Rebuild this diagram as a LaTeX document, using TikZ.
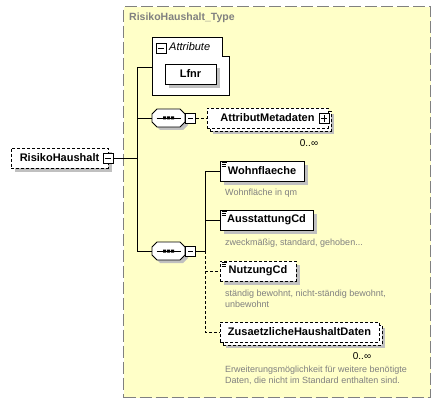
\documentclass[tikz,border=0pt]{standalone}
\usepackage{fontspec}
\setmainfont{Liberation Sans}
\usetikzlibrary{shadows}
\definecolor{bgyel}{RGB}{255,255,200}
\definecolor{shgray}{RGB}{192,192,192}
\definecolor{txgray}{RGB}{128,128,128}
\definecolor{bdgray}{RGB}{128,128,128}
\newcommand\docicon[1]{\draw[line width=0.7pt] ([shift={(2,1.5)}]#1.north west) -- ++(5,0) ([shift={(2,3.5)}]#1.north west) -- ++(4,0) ([shift={(2,5.5)}]#1.north west) -- ++(4,0);}
\newcommand\minussign[1]{\draw[line width=0.8pt] ([xshift=2.2pt]#1.west) -- ([xshift=-2.2pt]#1.east);}
\newcommand\plussign[1]{\draw[line width=0.8pt] ([xshift=2.2pt]#1.west) -- ([xshift=-2.2pt]#1.east) ([yshift=-2.2pt]#1.north) -- ([yshift=2.2pt]#1.south);}
\tikzset{
  elbox/.style={draw, fill=white, line width=0.9pt, minimum height=20pt, inner sep=0pt,
    font=\bfseries\fontsize{11}{13}\selectfont,
    general shadow={fill=shgray, shadow xshift=4pt, shadow yshift=-4pt}},
  optbox/.style={elbox, dash pattern=on 3pt off 2pt},
  multibox/.style={draw, fill=white, line width=0.9pt, minimum height=20pt, inner sep=0pt,
    font=\bfseries\fontsize{11}{13}\selectfont, dash pattern=on 3pt off 2pt,
    general shadow={fill=shgray, shadow xshift=6pt, shadow yshift=-6pt},
    general shadow={draw=black, fill=white, line width=0.9pt, dash pattern=on 3pt off 2pt, shadow xshift=3pt, shadow yshift=-3pt}},
  tog/.style={draw, fill=white, line width=0.8pt, minimum size=10pt, inner sep=0pt},
  desc/.style={anchor=west, text=txgray, font=\fontsize{9}{11}\selectfont, align=left, inner sep=0pt},
  card/.style={text=black, font=\fontsize{10}{12}\selectfont, inner sep=0pt},
  conn/.style={line width=0.8pt},
  optconn/.style={conn, dash pattern=on 3pt off 2pt},
  seqsym/.pic={
    \fill[shgray, shift={(3,3)}] (-11.5,-9) -- (11.5,-9) -- (16.5,-4) -- (16.5,4) -- (11.5,9) -- (-11.5,9) -- (-16.5,4) -- (-16.5,-4) -- cycle;
    \draw[fill=white, line width=0.8pt] (-11.5,-9) -- (11.5,-9) -- (16.5,-4) -- (16.5,4) -- (11.5,9) -- (-11.5,9) -- (-16.5,4) -- (-16.5,-4) -- cycle;
    \draw[line width=0.8pt] (-12,0) -- (12,0);
    \fill (-5.5,-1.5) rectangle (-2.5,1.5) (-1.5,-1.5) rectangle (1.5,1.5) (2.5,-1.5) rectangle (5.5,1.5);
    \coordinate (-w) at (-16.5,0);
    \node[tog] (-m) at (22,0) {};
    \draw[line width=0.8pt] (19.8,0) -- (24.2,0);
    \coordinate (-e) at (27,0);
  }
}
\begin{document}
\begin{tikzpicture}[x=1pt, y=-1pt]
\path[use as bounding box] (0,0) rectangle (441,403);
% type container
\node[draw=bdgray, fill=bgyel, line width=1.2pt, dash pattern=on 12pt off 4pt,
  minimum width=307pt, minimum height=391pt, anchor=north west, inner sep=0pt] (typebox) at (123,6) {};
\node[anchor=west, text=txgray, font=\bfseries\fontsize{10.5}{12}\selectfont, inner sep=0pt] (title) at (129,18) {RisikoHaushalt\_Type};
% attribute group
\draw[fill=white, line width=0.9pt] (152,37) -- (222,37) -- (222,56) -- (229,56) -- (229,95) -- (152,95) -- cycle;
\coordinate (attrL) at (152,67);
\node[tog] (attrm) at (161,48) {};
\minussign{attrm}
\node[anchor=west, inner sep=0pt, font=\itshape\fontsize{11}{13}\selectfont] (attrt) at (169,47) {Attribute};
\node[elbox, minimum width=51pt] (lfnr) at (190.5,74) {Lfnr};
% root
\node[elbox, dash pattern=on 3pt off 2pt, minimum width=97pt] (root) at (59.5,158) {RisikoHaushalt};
\node[tog] (rootm) at (108,158) {};
\minussign{rootm}
% sequences
\pic (s1) at (168.5,118) {seqsym};
\pic (s2) at (168.5,251) {seqsym};
% trunk
\coordinate (tTop) at (137,67);
\coordinate (tBot) at (137,251);
\draw[conn] (attrL) -- (tTop) -- (tBot) -- (s2-w);
\draw[conn] (rootm.east) -- (rootm.east -| tTop);
\draw[conn] (s1-w) -- (s1-w -| tTop);
% AttributMetadaten
\node[multibox, minimum width=121pt] (attmeta) at (267.5,118) {AttributMetadaten\hspace{7pt}};
\node[tog] (amplus) at (324,118.5) {};
\plussign{amplus}
\draw[optconn] (s1-m.east) -- (attmeta.west);
\node[card] (c1) at (309,143) {0..∞};
% sequence 2 children
\node[elbox, minimum width=84pt] (wohn) at (262,171) {Wohnflaeche};
\docicon{wohn}
\node[desc] (dwohn) at (225,193) {Wohnfläche in qm};
\node[elbox, minimum width=93pt] (aus) at (266.5,220) {AusstattungCd};
\docicon{aus}
\node[desc] (daus) at (225,243) {zweckmäßig, standard, gehoben...};
\node[optbox, minimum width=76pt] (nutz) at (258,271) {NutzungCd};
\docicon{nutz}
\node[desc] (dnutz) at (225,298.5) {ständig bewohnt, nicht-ständig bewohnt,\\unbewohnt};
\node[multibox, minimum width=159pt] (zus) at (299.5,332) {ZusaetzlicheHaushaltDaten};
\node[card] (c2) at (362,356) {0..∞};
\node[desc] (dzus) at (225,375) {Erweiterungsmöglichkeit für weitere benötigte\\Daten, die nicht im Standard enthalten sind.};
\coordinate (b2) at (205,251);
\draw[conn] (s2-m.east) -- (b2);
\draw[conn] (b2) |- (wohn.west);
\draw[conn] (b2) |- (aus.west);
\draw[optconn] (b2) |- (nutz.west);
\draw[optconn] (b2) |- (zus.west);
\end{tikzpicture}
\end{document}
